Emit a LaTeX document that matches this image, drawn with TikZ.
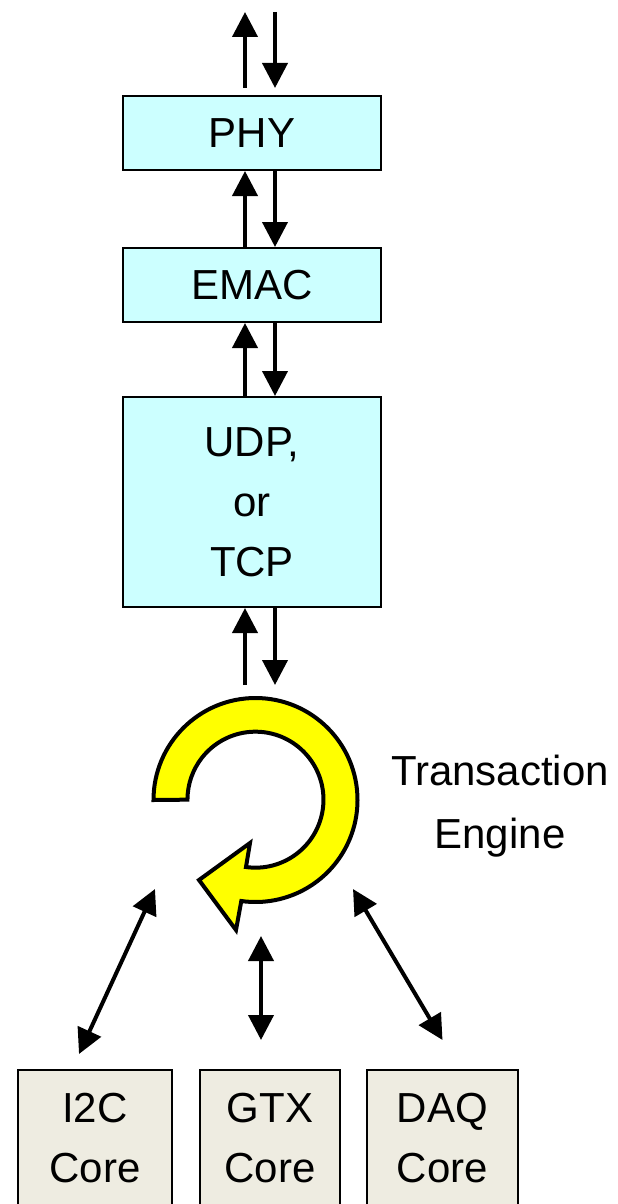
\documentclass[tikz,border=0pt]{standalone}
\usepackage{fontspec}
\setmainfont{Liberation Sans}
\usetikzlibrary{arrows.meta}

\definecolor{layercyan}{HTML}{CCFFFF}
\definecolor{corebeige}{HTML}{EEECE1}
\definecolor{loopyellow}{HTML}{FFFF00}

\begin{document}
\begin{tikzpicture}[x=0.5pt,y=-0.5pt]
\tikzset{every node/.style={font=\fontsize{21}{30}\selectfont},
  layer/.style={draw,line width=1pt,fill=layercyan,minimum width=129pt,align=center,inner sep=0pt},
  core/.style={draw,line width=1pt,fill=corebeige,minimum height=68pt,align=center,inner sep=0pt},
  flow/.style={line width=2pt,-{Triangle[length=12.5pt,width=12.5pt]}},
  both/.style={line width=2pt,{Triangle[length=12.5pt,width=12.5pt]}-{Triangle[length=12.5pt,width=12.5pt]}}}
\useasboundingbox (0,0) rectangle (617,1204);

% Protocol stack
\node[layer,minimum height=37pt] (phy) at (252,133) {PHY};
\node[layer,minimum height=37pt] (emac) at (252,285) {EMAC};
\node[layer,minimum height=105pt] (udp) at (252,502) {UDP,\\or\\TCP};

% Lanes for the up/down pairs
\coordinate (up) at (245,0);
\coordinate (dn) at (275,0);
\coordinate (wire) at (0,12);
\coordinate (wirelow) at (0,88);
\coordinate (tap) at (0,685);

\draw[flow] (wirelow -| up) -- (wire -| up);
\draw[flow] (wire -| dn) -- (wirelow -| dn);
\draw[flow] (emac.north -| up) -- (phy.south -| up);
\draw[flow] (phy.south -| dn) -- (emac.north -| dn);
\draw[flow] (udp.north -| up) -- (emac.south -| up);
\draw[flow] (emac.south -| dn) -- (udp.north -| dn);
\draw[flow] (tap -| up) -- (udp.south -| up);
\draw[flow] (udp.south -| dn) -- (tap -| dn);

% Transaction engine loop
\coordinate (hub) at (255.5,800);
\filldraw[fill=loopyellow,line width=2pt]
  (hub) ++(180:102) arc[start angle=180,end angle=458,radius=102]
  -- (236,930) -- (199,880) -- (250,843) -- (246,867)
  arc[start angle=458,end angle=180,radius=68] -- cycle;
\node[align=center] (engine) at (500,806) {Transaction\\[1.5pt]Engine};

% Cores
\node[core,minimum width=77pt] (i2c) at (95,1138) {I2C\\Core};
\node[core,minimum width=70pt] (gtx) at (270,1138) {GTX\\Core};
\node[core,minimum width=75.5pt] (daq) at (442.5,1138) {DAQ\\Core};

% Links between engine and cores
\coordinate (i2clink) at (155,889);
\coordinate (gtxlink) at (261,936);
\coordinate (daqlink) at (353,889);
\draw[both] ([xshift=-8pt,yshift=7.5pt]i2c.north) -- (i2clink);
\draw[both] ([xshift=-4.5pt,yshift=14.5pt]gtx.north) -- (gtxlink);
\draw[both] ([yshift=14.5pt]daq.north) -- (daqlink);

\end{tikzpicture}
\end{document}
